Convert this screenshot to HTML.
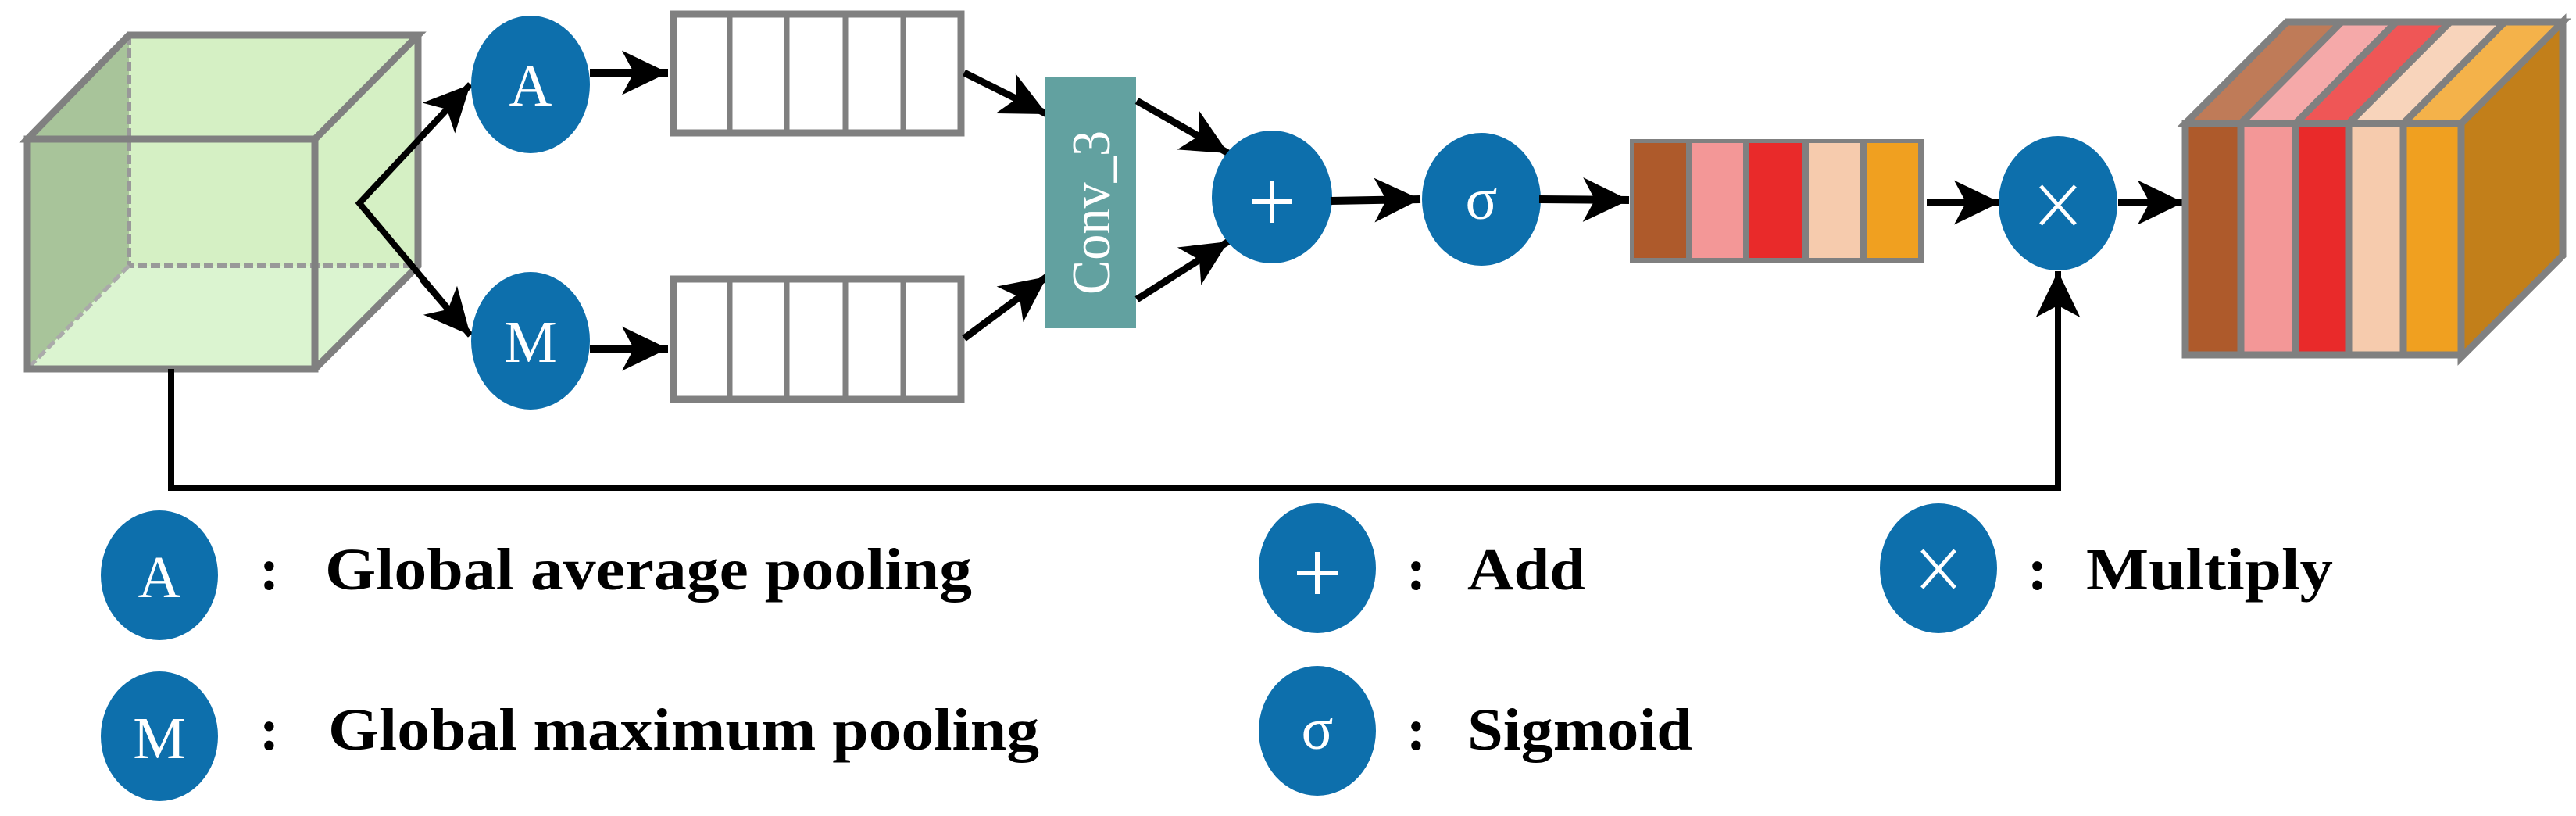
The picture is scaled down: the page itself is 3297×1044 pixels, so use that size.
<!DOCTYPE html>
<html><head><meta charset="utf-8"><style>html,body{margin:0;padding:0;background:#fff}svg{display:block}</style></head>
<body>
<svg width="3297" height="1044" viewBox="0 0 3297 1044" xmlns="http://www.w3.org/2000/svg">
<defs>
<marker id="ah" markerUnits="userSpaceOnUse" markerWidth="70" markerHeight="70" viewBox="-60 -32 64 64" refX="0" refY="0" orient="auto">
<path d="M0,0 L-54,-26 L-40,0 L-54,26 Z" fill="#000"/>
</marker>
</defs>
<!-- left cube -->
<g stroke="#808080" stroke-width="9" stroke-linejoin="miter">
<polygon points="35,178 165,45 535,45 535,340 403,472 35,472" fill="#d5f0c4" stroke="none"/>
<polygon points="35,178 165,45 165,340 35,472" fill="#a8c49a" stroke="none"/>
<polygon points="35,472 165,340 535,340 403,472" fill="#dbf4d0" stroke="none"/>
<polyline points="165,45 165,340 535,340" fill="none" stroke-dasharray="12,5" stroke-width="6" stroke="#999"/>
<polyline points="165,340 35,472" fill="none" stroke-dasharray="12,5" stroke-width="5" stroke="#aaa"/>
<polygon points="35,178 165,45 535,45 403,178" fill="none"/>
<polyline points="535,45 535,340 403,472" fill="none"/>
<rect x="35" y="178" width="368" height="294" fill="none"/>
</g>
<!-- split arrows -->
<polyline points="602,108 460,260 602,429" fill="none" stroke="#000" stroke-width="8"/>
<line x1="540" y1="174" x2="602" y2="108" stroke="#000" stroke-width="8" marker-end="url(#ah)"/>
<line x1="540" y1="357" x2="602" y2="429" stroke="#000" stroke-width="8" marker-end="url(#ah)"/>
<!-- A & M -->
<ellipse cx="679" cy="108" rx="76" ry="88" fill="#0d6fac"/>
<text x="679" y="135" font-family="Liberation Serif, serif" font-size="76" fill="#fff" text-anchor="middle">A</text>
<ellipse cx="679" cy="436" rx="76" ry="88" fill="#0d6fac"/>
<text x="679" y="463" font-family="Liberation Serif, serif" font-size="76" fill="#fff" text-anchor="middle">M</text>
<line x1="755" y1="93" x2="855" y2="93" stroke="#000" stroke-width="10" marker-end="url(#ah)"/>
<line x1="755" y1="446" x2="855" y2="446" stroke="#000" stroke-width="10" marker-end="url(#ah)"/>
<!-- bars -->
<g fill="#fff" stroke="#808080" stroke-width="9">
<rect x="862" y="18" width="368" height="152"/>
<rect x="862" y="357" width="368" height="154"/>
</g>
<g stroke="#808080" stroke-width="7">
<line x1="934" y1="18" x2="934" y2="170"/><line x1="1007" y1="18" x2="1007" y2="170"/><line x1="1082" y1="18" x2="1082" y2="170"/><line x1="1156" y1="18" x2="1156" y2="170"/>
<line x1="934" y1="357" x2="934" y2="511"/><line x1="1007" y1="357" x2="1007" y2="511"/><line x1="1082" y1="357" x2="1082" y2="511"/><line x1="1156" y1="357" x2="1156" y2="511"/>
</g>
<line x1="1234" y1="93" x2="1340" y2="146" stroke="#000" stroke-width="9" marker-end="url(#ah)"/>
<line x1="1234" y1="433" x2="1340" y2="354" stroke="#000" stroke-width="9" marker-end="url(#ah)"/>
<!-- conv -->
<rect x="1338" y="98" width="116" height="322" fill="#62a1a0"/>
<text transform="translate(1420,272) rotate(-90)" font-family="Liberation Serif, serif" font-size="70" fill="#fff" text-anchor="middle" textLength="210" lengthAdjust="spacingAndGlyphs">Conv_3</text>
<line x1="1455" y1="129" x2="1572" y2="196" stroke="#000" stroke-width="9" marker-end="url(#ah)"/>
<line x1="1455" y1="383" x2="1572" y2="309" stroke="#000" stroke-width="9" marker-end="url(#ah)"/>
<!-- plus -->
<ellipse cx="1628" cy="252" rx="77" ry="85" fill="#0d6fac"/>
<g stroke="#fff" stroke-width="6"><line x1="1602" y1="258" x2="1654" y2="258"/><line x1="1628" y1="231" x2="1628" y2="285"/></g>
<line x1="1703" y1="257" x2="1818" y2="255" stroke="#000" stroke-width="10" marker-end="url(#ah)"/>
<!-- sigma -->
<ellipse cx="1896" cy="255" rx="76" ry="85" fill="#0d6fac"/>
<text x="1896" y="280" font-family="Liberation Serif, serif" font-size="76" fill="#fff" text-anchor="middle">σ</text>
<line x1="1970" y1="255" x2="2085" y2="256" stroke="#000" stroke-width="10" marker-end="url(#ah)"/>
<!-- color bar -->
<rect x="2086" y="178" width="376" height="158" fill="#808080"/>
<rect x="2091" y="183" width="67" height="147" fill="#ae5a2b"/>
<rect x="2166" y="183" width="65" height="147" fill="#f39797"/>
<rect x="2239" y="183" width="68" height="147" fill="#e92a2a"/>
<rect x="2315" y="183" width="66" height="147" fill="#f6cbad"/>
<rect x="2389" y="183" width="66" height="147" fill="#f0a020"/>
<line x1="2466" y1="259" x2="2560" y2="259" stroke="#000" stroke-width="10" marker-end="url(#ah)"/>
<!-- times -->
<ellipse cx="2634" cy="260" rx="76" ry="86" fill="#0d6fac"/>
<g stroke="#fff" stroke-width="5"><line x1="2612" y1="238" x2="2656" y2="287"/><line x1="2656" y1="238" x2="2612" y2="287"/></g>
<line x1="2711" y1="259" x2="2795" y2="259" stroke="#000" stroke-width="10" marker-end="url(#ah)"/>
<!-- skip connection -->
<polyline points="219,472 219,624 2634,624 2634,347" fill="none" stroke="#000" stroke-width="8" marker-end="url(#ah)"/>
<!-- right cube -->
<g stroke="#808080" stroke-width="9" stroke-linejoin="miter">
<polygon points="3150,158 3280,28 3280,327 3150,457" fill="#c27f1a"/>
<polygon points="2797,158 2927,28 2997,28 2868,158" fill="#bf7b58"/>
<polygon points="2868,158 2997,28 3067,28 2938,158" fill="#f5a9a9"/>
<polygon points="2938,158 3067,28 3136,28 3006,158" fill="#ef5656"/>
<polygon points="3006,158 3136,28 3206,28 3076,158" fill="#f8d4bb"/>
<polygon points="3076,158 3206,28 3280,28 3150,158" fill="#f4b24a"/>
<rect x="2797" y="158" width="71" height="296" fill="#ae5a2b"/>
<rect x="2868" y="158" width="70" height="296" fill="#f39797"/>
<rect x="2938" y="158" width="68" height="296" fill="#e92a2a"/>
<rect x="3006" y="158" width="70" height="296" fill="#f6cbad"/>
<rect x="3076" y="158" width="74" height="296" fill="#f0a020"/>
</g>
<!-- legend -->
<g fill="#0d6fac">
<ellipse cx="204" cy="736" rx="75" ry="83"/>
<ellipse cx="204" cy="942" rx="75" ry="83"/>
<ellipse cx="1686" cy="727" rx="75" ry="83"/>
<ellipse cx="1686" cy="935" rx="75" ry="83"/>
<ellipse cx="2481" cy="727" rx="75" ry="83"/>
</g>
<g font-family="Liberation Serif, serif" font-size="76" fill="#fff" text-anchor="middle">
<text x="204" y="764">A</text>
<text x="204" y="970">M</text>
<text x="1686" y="958">σ</text>
</g>
<g stroke="#fff" stroke-width="6"><line x1="1660" y1="733" x2="1712" y2="733"/><line x1="1686" y1="706" x2="1686" y2="760"/>
<line x1="2460" y1="704" x2="2502" y2="752" stroke-width="5"/><line x1="2502" y1="704" x2="2460" y2="752" stroke-width="5"/></g>
<g font-family="Liberation Serif, serif" font-size="76" font-weight="bold" fill="#000">
<text x="332" y="754">:</text>
<text x="416" y="754" textLength="828" lengthAdjust="spacingAndGlyphs">Global average pooling</text>
<text x="332" y="959">:</text>
<text x="420" y="959" textLength="910" lengthAdjust="spacingAndGlyphs">Global maximum pooling</text>
<text x="1800" y="754">:</text>
<text x="1878" y="754" textLength="151" lengthAdjust="spacingAndGlyphs">Add</text>
<text x="1800" y="959">:</text>
<text x="1878" y="959" textLength="288" lengthAdjust="spacingAndGlyphs">Sigmoid</text>
<text x="2595" y="754">:</text>
<text x="2670" y="754" textLength="316" lengthAdjust="spacingAndGlyphs">Multiply</text>
</g>
</svg>
</body></html>
